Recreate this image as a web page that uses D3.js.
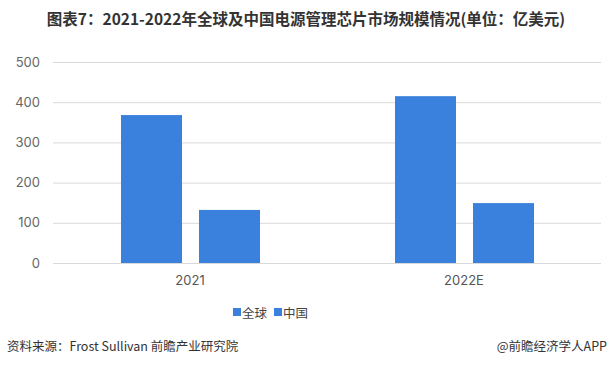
<!DOCTYPE html>
<html><head><meta charset="utf-8">
<script src="https://cdn.jsdelivr.net/npm/d3@7"></script>
<style>body{margin:0;background:#fff;}svg{display:block;}</style>
</head><body><svg id="c" width="613" height="368"></svg>
<script>
const categories = ["2021", "2022E"];
const seriesNames = ["全球", "中国"];
const globalValues = [368, 415];
const chinaValues = [132, 149];
const yTicks = [0, 100, 200, 300, 400, 500];
const titleText = "图表7：2021-2022年全球及中国电源管理芯片市场规模情况(单位：亿美元)";
const sourceText = "资料来源：Frost Sullivan 前瞻产业研究院";
const brandText = "@前瞻经济学人APP";

const svg = d3.select("#c");
const cjk = "'Noto Sans CJK SC','Noto Sans',sans-serif";
const color = "#3a80dd";

const x = d3.scaleBand().domain(categories).range([53, 601]);
const xs = d3.scaleBand().domain(seriesNames).range([68, 207]).paddingInner(0.218);
const y = d3.scaleLinear().domain([0, 500]).range([263, 62]);

// title
svg.append("text").attr("x", 306).attr("y", 25).attr("text-anchor", "middle")
  .attr("font-family", cjk).attr("font-weight", "bold").attr("font-size", 15.5)
  .attr("fill", "#333").text(titleText);

// grid
const yAxis = d3.axisLeft(y).tickValues(yTicks).tickSize(-(601 - 53)).tickPadding(13);
const gy = svg.append("g").attr("transform", "translate(53,0)").call(yAxis);
gy.select(".domain").remove();
gy.selectAll(".tick line").attr("stroke", "#d9d9d9");
gy.selectAll(".tick text").attr("fill", "#666").attr("font-size", 13)
  .attr("font-family", "Inter,'Noto Sans',sans-serif");

// bars
const data = categories.map((c, i) => ({cat: c, vals: [globalValues[i], chinaValues[i]]}));
const g = svg.append("g");
data.forEach(d => {
  d.vals.forEach((v, j) => {
    g.append("rect")
      .attr("x", x(d.cat) + xs(seriesNames[j]))
      .attr("y", y(v))
      .attr("width", xs.bandwidth())
      .attr("height", y(0) - y(v))
      .attr("fill", color);
  });
});

// x axis
const xAxis = d3.axisBottom(x).tickSize(0).tickPadding(13);
const gx = svg.append("g").attr("transform", "translate(0,263)").call(xAxis);
gx.select(".domain").remove();
gx.selectAll(".tick text").attr("fill", "#555").attr("font-size", 13)
  .attr("font-family", "Inter,'Noto Sans',sans-serif");

// legend
const legendX = [233, 274];
seriesNames.forEach((s, i) => {
  svg.append("rect").attr("x", legendX[i]).attr("y", 308).attr("width", 8).attr("height", 8).attr("fill", color);
  svg.append("text").attr("x", legendX[i] + 9).attr("y", 317.5)
    .attr("font-family", cjk).attr("font-size", 12.5).attr("fill", "#444").text(s);
});

// footer
svg.append("text").attr("x", 7).attr("y", 351).attr("font-family", cjk).attr("font-size", 12.5)
  .attr("fill", "#333").text(sourceText);
svg.append("text").attr("x", 607).attr("y", 351).attr("text-anchor", "end").attr("font-family", cjk)
  .attr("font-size", 12.5).attr("fill", "#333").text(brandText);
</script></body></html>
